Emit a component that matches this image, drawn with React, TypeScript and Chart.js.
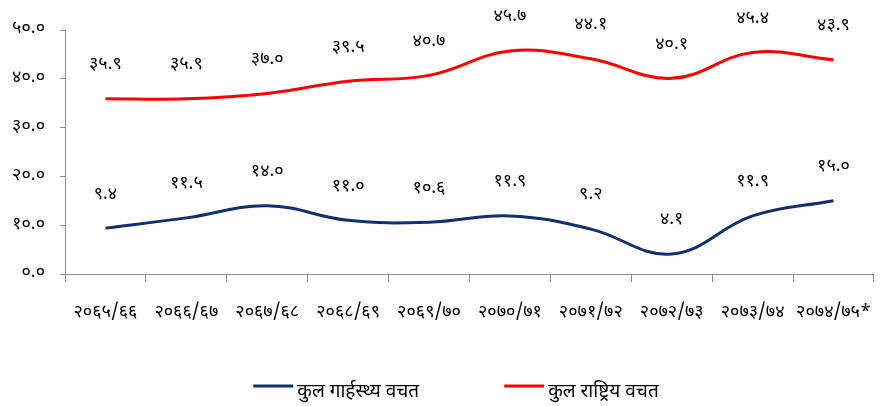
import React, { useEffect, useRef } from 'react';
import { Chart, registerables } from 'chart.js';

Chart.register(...registerables);

const categories = [
  '२०६५/६६', '२०६६/६७', '२०६७/६८', '२०६८/६९', '२०६९/७०',
  '२०७०/७१', '२०७१/७२', '२०७२/७३', '२०७३/७४', '२०७४/७५*',
];
const householdSaving = [9.4, 11.5, 14.0, 11.0, 10.6, 11.9, 9.2, 4.1, 11.9, 15.0];
const nationalSaving = [35.9, 35.9, 37.0, 39.5, 40.7, 45.7, 44.1, 40.1, 45.4, 43.9];
const seriesNames = ['कुल गार्हस्थ्य वचत', 'कुल राष्ट्रिय वचत'];
const seriesColors = ['#12306B', '#FF0000'];
const yMin = 0;
const yMax = 50;
const yStep = 10;

const FONT = "'Noto Sans Devanagari', 'Lohit Devanagari', 'Mangal', 'Noto Sans', sans-serif";
const devDigits = '०१२३४५६७८९';
const toDev = (s: string) => s.replace(/[0-9]/g, (d) => devDigits[Number(d)]);

const valueLabelPlugin = {
  id: 'valueLabels',
  afterDatasetsDraw(chart: any) {
    const ctx = chart.ctx;
    ctx.save();
    ctx.font = `18px ${FONT}`;
    ctx.fillStyle = '#000';
    ctx.textAlign = 'center';
    ctx.textBaseline = 'middle';
    chart.data.datasets.forEach((ds: any, i: number) => {
      const meta = chart.getDatasetMeta(i);
      meta.data.forEach((pt: any, j: number) => {
        const v = ds.data[j] as number;
        ctx.fillText(toDev(v.toFixed(1)), pt.x, pt.y - 33);
      });
    });
    ctx.restore();
  },
};

const customLegendPlugin = {
  id: 'customLegend',
  afterDraw(chart: any) {
    const ctx = chart.ctx;
    ctx.save();
    ctx.font = `19px ${FONT}`;
    const lineLen = 40;
    const gapText = 4;
    const gapItems = 85;
    const items = chart.data.datasets.map((ds: any) => ({
      text: ds.label as string,
      color: ds.borderColor as string,
      w: lineLen + gapText + ctx.measureText(ds.label).width,
    }));
    const total = items.reduce((a: number, it: any) => a + it.w, 0) + gapItems * (items.length - 1);
    let x = chart.width / 2 + 10 - total / 2;
    const lineY = 386;
    const textY = 393;
    items.forEach((it: any) => {
      ctx.strokeStyle = it.color;
      ctx.lineWidth = 3;
      ctx.beginPath();
      ctx.moveTo(x, lineY);
      ctx.lineTo(x + lineLen, lineY);
      ctx.stroke();
      ctx.fillStyle = '#000';
      ctx.textAlign = 'left';
      ctx.textBaseline = 'middle';
      ctx.fillText(it.text, x + lineLen + gapText, textY);
      x += it.w + gapItems;
    });
    ctx.restore();
  },
};

export default function App() {
  const canvasRef = useRef<HTMLCanvasElement | null>(null);

  useEffect(() => {
    if (!canvasRef.current) return;
    const chart = new Chart(canvasRef.current, {
      type: 'line',
      data: {
        labels: categories,
        datasets: [
          {
            label: seriesNames[0],
            data: householdSaving,
            borderColor: seriesColors[0],
            backgroundColor: seriesColors[0],
            borderWidth: 3,
            pointRadius: 0,
            tension: 0.4,
            fill: false,
          },
          {
            label: seriesNames[1],
            data: nationalSaving,
            borderColor: seriesColors[1],
            backgroundColor: seriesColors[1],
            borderWidth: 3,
            pointRadius: 0,
            tension: 0.4,
            fill: false,
          },
        ],
      },
      options: {
        animation: false,
        responsive: false,
        maintainAspectRatio: false,
        layout: { padding: { top: 30, right: 2, left: 0, bottom: 0 } },
        plugins: {
          legend: { display: false },
          tooltip: { enabled: false },
        },
        scales: {
          x: {
            offset: true,
            grid: {
              offset: true,
              drawOnChartArea: false,
              drawTicks: true,
              tickLength: 8,
              color: '#8C8C8C',
            },
            border: { color: '#8C8C8C', width: 1 },
            ticks: {
              color: '#000',
              font: { family: FONT, size: 18 },
              padding: 21,
              maxRotation: 0,
              autoSkip: false,
            },
            afterFit: (scale: any) => {
              scale.height = 132;
            },
          },
          y: {
            min: yMin,
            max: yMax,
            grid: {
              drawOnChartArea: false,
              drawTicks: true,
              tickLength: 5,
              color: '#8C8C8C',
            },
            border: { color: '#8C8C8C', width: 1 },
            ticks: {
              stepSize: yStep,
              color: '#000',
              font: { family: FONT, size: 18 },
              padding: 15,
              callback: (v: any) => toDev(Number(v).toFixed(1)),
            },
            afterFit: (scale: any) => {
              scale.width = 65;
            },
          },
        },
      },
      plugins: [valueLabelPlugin, customLegendPlugin],
    });
    return () => chart.destroy();
  }, []);

  return (
    <div style={{ position: 'fixed', left: 0, top: 0, width: 892, height: 406, background: '#fff' }}>
      <canvas ref={canvasRef} width={892} height={406} style={{ width: 892, height: 406 }} />
    </div>
  );
}
